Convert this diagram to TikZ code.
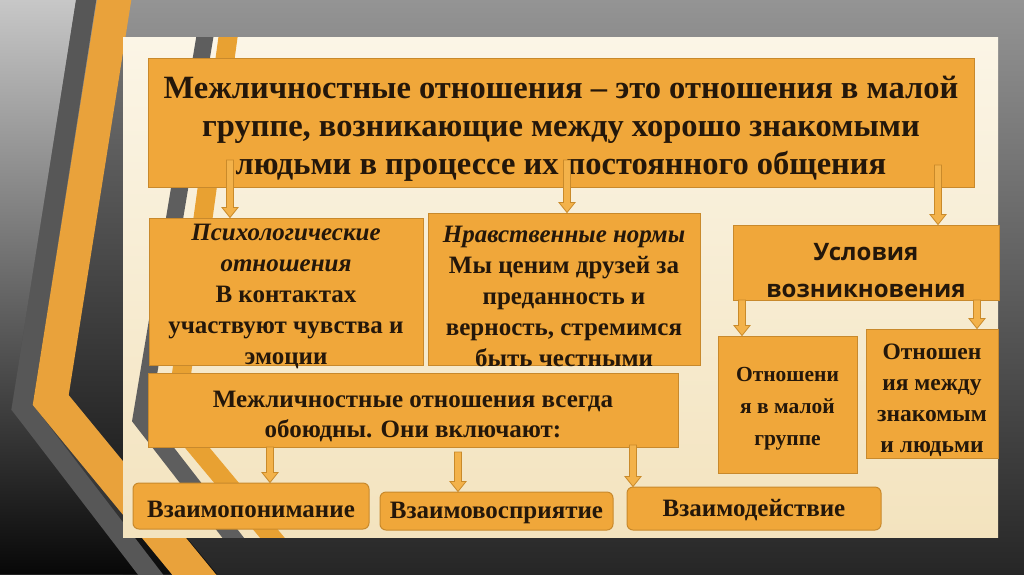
\documentclass[tikz,border=0pt]{standalone}
\usepackage{fontspec}
\setmainfont{Liberation Serif}
\newfontfamily\osans{Open Sans}
\usetikzlibrary{calc}
\definecolor{boxfill}{HTML}{F0A73A}
\definecolor{boxedge}{HTML}{C8892C}
\definecolor{txt}{HTML}{24170A}
\definecolor{arrfill}{HTML}{F3B24A}
\definecolor{arredge}{HTML}{C98A2A}
\definecolor{band}{HTML}{E9A23B}
\definecolor{bandgray}{HTML}{575757}
\definecolor{bandgrayin}{HTML}{5E5E5E}
\definecolor{bandin}{HTML}{E8A132}
\definecolor{creamtop}{HTML}{FBF5E6}
\definecolor{creambot}{HTML}{F3E3BE}
\newcommand\blockarr[2]{%
  \path[barrow] let \p1=(#1), \p2=(#2) in
  (\x1-3.5pt,\y1) -- (\x1+3.5pt,\y1) -- (\x1+3.5pt,\y2+10pt) -- (\x1+8pt,\y2+10pt)
  -- (\x1,\y2) -- (\x1-8pt,\y2+10pt) -- (\x1-3.5pt,\y2+10pt) -- cycle;}
% #1 box options, #2 text options, #3 name, #4 centre, #5 text shift (down, pt), #6 text
\newcommand\tbox[6]{%
  \node[#1] (#3) at (#4) {};
  \node[btext, #2] (#3-t) at ([yshift=-#5pt]#3.center) {#6};}
\begin{document}
\begin{tikzpicture}[x=1pt,y=-1pt,
  box/.style={draw=boxedge, line width=1pt, fill=boxfill, inner sep=0pt},
  rbox/.style={box, rounded corners=6pt},
  btext/.style={text=txt, align=center, inner sep=0pt},
  barrow/.style={draw=arredge, fill=arrfill, line width=0.8pt, line join=miter},
  fs/.style 2 args={font=\bfseries\fontsize{#1}{#2}\selectfont}]
\useasboundingbox (0,0) rectangle (1024,574);
\clip (0,0) rectangle (1024,574);
% background
\shade[top color=black!42, middle color=black!52, bottom color=black!85] (0,0) rectangle (1024,574);
\shade[top color=black!55, bottom color=black!95] (125,37) -- (123,37) -- (123,574) -- (216.8,574) -- (68.5,395) -- cycle;
\shade[top color=black!22, middle color=black!62, bottom color=black!97] (0,0) -- (76,0) -- (11,410) -- (147,574) -- (0,574) -- cycle;
% outer chevron
\draw[bandgray, line width=20pt, line join=miter] (88,-12) -- (22,407) -- (170,600);
\draw[band, line width=34pt, line join=miter] (116,-12) -- (50.7,400) -- (215,600);
% panel
\shade[top color=creamtop, bottom color=creambot] (123,37) rectangle (998,537);
\begin{scope}
\clip (123,37) rectangle (998,537);
\draw[bandgrayin, line width=17pt, line join=miter] (206,30) -- (141,419) -- (245,553);
\draw[bandin, line width=19pt, line join=miter] (229,30) -- (175,421) -- (285,553);
\end{scope}
% boxes
\tbox{box, minimum width=826pt, minimum height=129pt}{fs={32.5}{38}}{title}{561,122.5}{6}
  {Межличностные отношения – это отношения в малой\\группе, возникающие между хорошо знакомыми\\людьми в процессе их постоянного общения}
\tbox{box, minimum width=274pt, minimum height=147pt}{fs={25}{30.8}}{psych}{286,291.5}{5}
  {\itshape Психологические\\\itshape отношения\\В контактах\\участвуют чувства и\\эмоции}
\tbox{box, minimum width=272pt, minimum height=152pt}{fs={25}{31}}{moral}{564,289}{7}
  {\itshape Нравственные нормы\\Мы ценим друзей за\\преданность и\\верность, стремимся\\быть честными}
\tbox{box, minimum width=266pt, minimum height=75pt}{font=\osans\bfseries\fontsize{24}{37}\selectfont}{usl}{866,262.5}{8}
  {Условия\\возникновения}
\tbox{box, minimum width=139pt, minimum height=137pt}{fs={21.5}{32}}{small1}{787.5,404.5}{4}
  {Отношени\\я в малой\\группе}
\tbox{box, minimum width=132pt, minimum height=129pt}{fs={23.5}{31}}{small2}{932,393.5}{7}
  {Отношен\\ия между\\знакомым\\и людьми}
\tbox{box, minimum width=530pt, minimum height=74pt}{fs={25}{30}}{vsegda}{413,410}{6}
  {Межличностные отношения всегда\\обоюдны. Они включают:}
\tbox{rbox, minimum width=236pt, minimum height=46pt}{fs={25}{28}}{b1}{251,506}{3}{Взаимопонимание}
\tbox{rbox, minimum width=233pt, minimum height=38pt}{fs={25}{28}}{b2}{496.5,511}{2}{Взаимовосприятие}
\tbox{rbox, minimum width=254pt, minimum height=43pt}{fs={25}{28}}{b3}{754,508.5}{2}{Взаимодействие}
% arrow start points
\coordinate (s1) at (230,160);
\coordinate (s2) at (567,160);
\coordinate (s3) at (938,165);
\coordinate (s4) at (742,300);
\coordinate (s5) at (977,300);
\coordinate (s6) at (270,447);
\coordinate (s7) at (458,452);
\coordinate (s8) at (633,445);
\blockarr{s1}{s1 |- psych.north}
\blockarr{s2}{s2 |- moral.north}
\blockarr{s3}{s3 |- usl.north}
\blockarr{s4}{s4 |- small1.north}
\blockarr{s5}{s5 |- small2.north}
\blockarr{s6}{s6 |- b1.north}
\blockarr{s7}{s7 |- b2.north}
\blockarr{s8}{s8 |- b3.north}
\end{tikzpicture}
\end{document}
